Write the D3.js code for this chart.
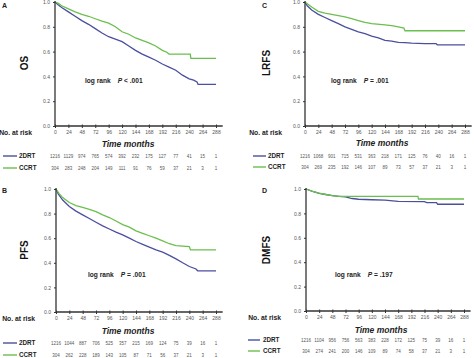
<!DOCTYPE html>
<html><head><meta charset="utf-8">
<script src="https://cdn.jsdelivr.net/npm/d3@7"></script>
<style>
html,body{margin:0;padding:0;background:#fff;}
svg{display:block;font-family:"Liberation Sans",Arial,sans-serif;}
</style></head>
<body>
<svg id="chart" width="474" height="358"></svg>
<script>
// ---- data ----
const timeTicks = [0,24,48,72,96,120,144,168,192,216,240,264,288];
const yTicks = [0,0.2,0.4,0.6,0.8,1.0];
const groups = ["2DRT","CCRT"];
const groupColors = ["#4b4f9e","#6bbf4e"];

const osDRT = [[0,1],[6,0.975],[12,0.955],[24,0.92],[36,0.885],[48,0.85],[60,0.82],[72,0.785],[84,0.75],[96,0.72],[108,0.70],[120,0.68],[132,0.645],[144,0.61],[156,0.58],[168,0.555],[180,0.53],[192,0.50],[204,0.475],[216,0.45],[228,0.41],[240,0.38],[248,0.37],[254,0.355],[256,0.335],[288,0.335]];
const osCCRT = [[0,1],[6,0.99],[12,0.97],[24,0.945],[36,0.92],[48,0.90],[60,0.885],[72,0.865],[84,0.845],[96,0.83],[108,0.80],[120,0.76],[132,0.74],[144,0.71],[156,0.69],[168,0.67],[180,0.645],[192,0.61],[200,0.595],[204,0.58],[242,0.58],[243,0.545],[288,0.545]];
const lrfsDRT = [[0,1],[4,0.97],[12,0.935],[24,0.90],[36,0.875],[48,0.85],[60,0.825],[72,0.80],[84,0.78],[96,0.76],[108,0.745],[120,0.725],[132,0.71],[144,0.69],[156,0.685],[168,0.675],[180,0.672],[192,0.668],[216,0.665],[236,0.665],[238,0.655],[288,0.655]];
const lrfsCCRT = [[0,1],[6,0.98],[12,0.96],[24,0.925],[36,0.91],[48,0.90],[60,0.89],[72,0.88],[84,0.865],[96,0.85],[108,0.835],[120,0.825],[144,0.815],[156,0.81],[168,0.80],[178,0.79],[180,0.768],[288,0.768]];
const pfsDRT = [[0,1],[4,0.96],[12,0.91],[24,0.857],[36,0.82],[48,0.79],[60,0.76],[72,0.73],[84,0.70],[96,0.675],[108,0.65],[120,0.627],[132,0.60],[144,0.573],[156,0.55],[168,0.527],[180,0.505],[192,0.486],[204,0.46],[216,0.432],[228,0.40],[240,0.37],[252,0.35],[255,0.335],[288,0.335]];
const pfsCCRT = [[0,1],[6,0.96],[12,0.93],[24,0.89],[36,0.865],[48,0.85],[60,0.835],[72,0.816],[84,0.79],[96,0.768],[108,0.74],[120,0.71],[132,0.69],[144,0.66],[156,0.64],[168,0.62],[180,0.60],[192,0.578],[204,0.555],[216,0.54],[240,0.532],[242,0.505],[288,0.505]];
const dmfsDRT = [[0,1],[12,0.98],[24,0.965],[36,0.955],[48,0.946],[60,0.94],[72,0.935],[84,0.922],[96,0.916],[120,0.912],[144,0.908],[168,0.898],[216,0.897],[220,0.889],[238,0.889],[240,0.875],[288,0.875]];
const dmfsCCRT = [[0,1],[12,0.98],[24,0.967],[36,0.955],[48,0.946],[60,0.94],[204,0.94],[205,0.918],[288,0.918]];

const riskOS_DRT = [1216,1129,974,765,574,392,232,175,127,77,41,15,1];
const riskOS_CCRT = [304,283,248,204,149,111,91,76,59,37,21,3,1];
const riskLRFS_DRT = [1216,1068,901,715,531,363,218,171,125,76,40,16,1];
const riskLRFS_CCRT = [304,269,235,192,146,107,89,73,57,37,21,3,1];
const riskPFS_DRT = [1216,1044,887,706,525,357,215,169,124,75,39,16,1];
const riskPFS_CCRT = [304,262,228,189,143,105,87,71,56,37,21,3,1];
const riskDMFS_DRT = [1216,1104,956,756,563,383,228,172,125,75,39,16,1];
const riskDMFS_CCRT = [304,274,241,200,146,109,89,74,58,37,21,3,1];

const panelLetters = ["A","C","B","D"];
const endpointLabels = ["OS","LRFS","PFS","DMFS"];
const pValues = ["< .001","= .001","= .001","= .197"];

// ---- layout (pixels) ----
const layouts = [
  {x0:55, x288:216, yTop:2, yBot:126, letter:[2,8], ylab:[24,63], lr:[85,83], nar:32, tm:[128,147], rows:[158,170], leg:[3,17,19]},
  {x0:305, x288:465, yTop:2, yBot:126, letter:[262,8], ylab:[266,63], lr:[331,83], nar:282, tm:[382,146], rows:[158,169], leg:[253,266,268]},
  {x0:56, x288:216, yTop:189, yBot:312, letter:[2,193], ylab:[24,250], lr:[88,277], nar:35, tm:[128,334], rows:[345,357], leg:[3,17,19]},
  {x0:306, x288:464, yTop:189, yBot:311, letter:[262,193], ylab:[266,250], lr:[335,277], nar:281, tm:[381,333], rows:[342,353], leg:[248,260,263]}
];
const curves = [[osDRT,osCCRT],[lrfsDRT,lrfsCCRT],[pfsDRT,pfsCCRT],[dmfsDRT,dmfsCCRT]];
const risks = [[riskOS_DRT,riskOS_CCRT],[riskLRFS_DRT,riskLRFS_CCRT],[riskPFS_DRT,riskPFS_CCRT],[riskDMFS_DRT,riskDMFS_CCRT]];

const svg = d3.select("#chart");
svg.append("rect").attr("width",474).attr("height",358).attr("fill","#fff");

layouts.forEach((L,i)=>{
  const g = svg.append("g");
  const x = d3.scaleLinear().domain([0,288]).range([L.x0,L.x288]);
  const y = d3.scaleLinear().domain([0,1]).range([L.yBot,L.yTop]);

  // curves
  const line = d3.line().x(d=>x(d[0])).y(d=>y(d[1])).curve(d3.curveLinear);
  curves[i].forEach((c,k)=>{
    g.append("path").attr("d",line(c)).attr("fill","none")
      .attr("stroke",groupColors[k]).attr("stroke-width",1.3);
  });

  // y axis
  const ya = g.append("g").attr("transform",`translate(${L.x0},0)`)
    .call(d3.axisLeft(y).tickValues(yTicks).tickFormat(d3.format(".1f")).tickSize(2).tickPadding(3));
  ya.select(".domain").remove();
  g.append("line").attr("x1",L.x0).attr("x2",L.x0).attr("y1",L.yTop-1).attr("y2",L.yBot)
    .attr("stroke","#333").attr("stroke-width",1.3);

  // x axis
  const xa = g.append("g").attr("transform",`translate(0,${L.yBot})`)
    .call(d3.axisBottom(x).tickValues(timeTicks).tickSize(2).tickPadding(2));
  xa.select(".domain").remove();
  xa.selectAll(".tick line").attr("y1",-1.5);
  g.append("line").attr("x1",L.x0).attr("x2",x(300)).attr("y1",L.yBot).attr("y2",L.yBot)
    .attr("stroke","#333").attr("stroke-width",1.3);

  g.selectAll(".tick line").attr("stroke","#333");
  g.selectAll(".tick text").attr("fill","#555").style("font-size","5px").style("font-family","'Liberation Sans',Arial,sans-serif");

  // panel letter
  g.append("text").attr("x",L.letter[0]).attr("y",L.letter[1]).text(panelLetters[i])
    .style("font-size","7px").style("font-weight","bold").attr("fill","#222");

  // y label
  g.append("text").attr("transform",`translate(${L.ylab[0]+3.5},${L.ylab[1]}) rotate(-90)`)
    .attr("text-anchor","middle").text(endpointLabels[i])
    .style("font-size","10px").style("font-weight","bold").attr("fill","#111");

  // log rank
  const lr = g.append("text").attr("x",L.lr[0]).attr("y",L.lr[1])
    .style("font-size","6.6px").style("font-weight","bold").attr("fill","#222");
  lr.append("tspan").text("log rank");
  lr.append("tspan").attr("dx",7).style("font-style","italic").text("P");
  lr.append("tspan").attr("dx",2).text(pValues[i]);

  // no at risk
  g.append("text").attr("x",L.nar).attr("y",L.yBot+8.5).attr("text-anchor","end")
    .text("No. at risk").style("font-size","6.8px").style("font-weight","bold").attr("fill","#222");

  // time months
  g.append("text").attr("x",L.tm[0]).attr("y",L.tm[1]).attr("text-anchor","middle")
    .text("Time months").style("font-size","8.5px").style("font-weight","bold").style("font-style","italic").attr("fill","#222");

  // legend + risk rows
  groups.forEach((name,k)=>{
    const yy = L.rows[k];
    g.append("line").attr("x1",L.leg[0]).attr("x2",L.leg[1]).attr("y1",yy-2).attr("y2",yy-2)
      .attr("stroke",groupColors[k]).attr("stroke-width",1.4);
    g.append("text").attr("x",L.leg[2]).attr("y",yy).text(name)
      .style("font-size","6.3px").style("font-weight","bold").attr("fill","#222");
    g.selectAll(null).data(risks[i][k]).enter().append("text")
      .attr("x",(d,j)=>x(timeTicks[j])).attr("y",yy-0.5).attr("text-anchor","middle")
      .text(d=>d).style("font-size","4.5px").attr("fill","#555");
  });
});
</script>
</body></html>
